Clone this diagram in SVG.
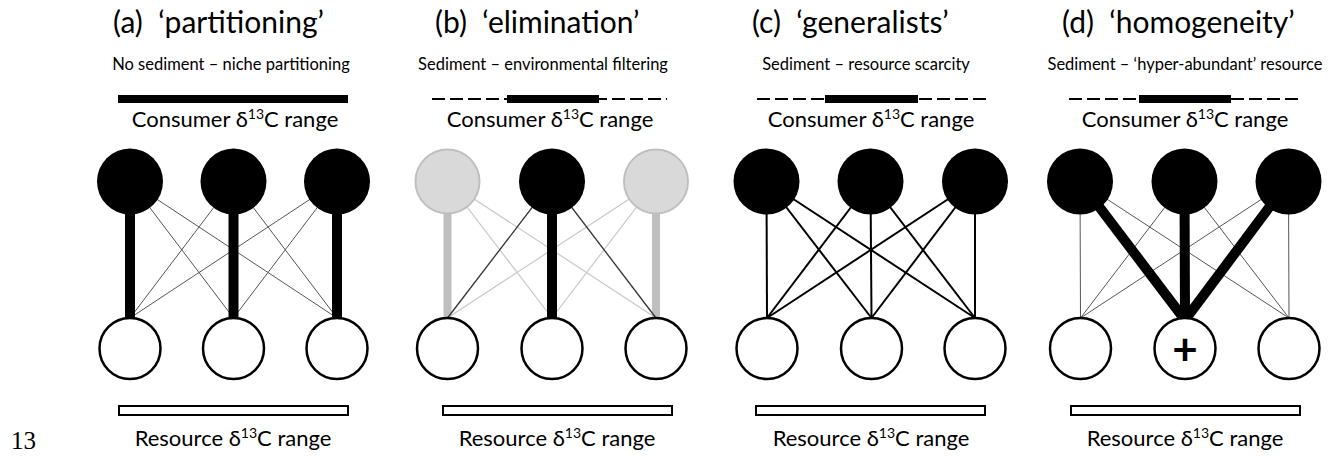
<svg xmlns="http://www.w3.org/2000/svg" width="1336" height="456" viewBox="0 0 1336 456">
<style>
text{font-family:Lato,"Liberation Sans","DejaVu Sans",sans-serif;fill:#000}
.title{font-size:30px;white-space:pre}
.sub{font-size:16.5px;text-anchor:middle}
.lbl{font-size:22px;text-anchor:middle}
.sup{font-size:14px}
.pg{font-family:"Liberation Serif",serif;font-size:25px}
.cons{fill:#000}
.consg{fill:#d9d9d9;stroke:#bfbfbf;stroke-width:2}
.res{fill:#fff;stroke:#000;stroke-width:2.5}
.cbar{fill:#000}
.rbar{fill:#fff;stroke:#000;stroke-width:2}
.dash{stroke:#000;stroke-width:2;stroke-dasharray:13 5;fill:none}
.thin{stroke:#555;stroke-width:1}
.thick{stroke:#000;stroke-width:10}
.med{stroke:#000;stroke-width:2}
.gthin{stroke:#c8c8c8;stroke-width:1.2}
.gthick{stroke:#bfbfbf;stroke-width:8}
.dthin{stroke:#333;stroke-width:1.3}
.plus{font-size:44px;font-weight:bold;text-anchor:middle}
</style>

<g id="connectors">
  <!-- panel a -->
  <line class="thin" x1="130" y1="181.5" x2="233.5" y2="318"/>
  <line class="thin" x1="130" y1="181.5" x2="337" y2="318"/>
  <line class="thin" x1="233.5" y1="181.5" x2="130" y2="318"/>
  <line class="thin" x1="233.5" y1="181.5" x2="337" y2="318"/>
  <line class="thin" x1="337" y1="181.5" x2="130" y2="318"/>
  <line class="thin" x1="337" y1="181.5" x2="233.5" y2="318"/>
  <line class="thick" x1="130" y1="181.5" x2="130" y2="320"/>
  <line class="thick" x1="233.5" y1="181.5" x2="233.5" y2="320"/>
  <line class="thick" x1="337" y1="181.5" x2="337" y2="320"/>
  <!-- panel b -->
  <line class="gthin" x1="447.5" y1="181.5" x2="552" y2="318"/>
  <line class="gthin" x1="447.5" y1="181.5" x2="656" y2="318"/>
  <line class="gthin" x1="656" y1="181.5" x2="447.5" y2="318"/>
  <line class="gthin" x1="656" y1="181.5" x2="552" y2="318"/>
  <line class="gthick" x1="447.5" y1="181.5" x2="447.5" y2="320"/>
  <line class="gthick" x1="656" y1="181.5" x2="656" y2="320"/>
  <line class="dthin" x1="552" y1="181.5" x2="447.5" y2="318"/>
  <line class="dthin" x1="552" y1="181.5" x2="656" y2="318"/>
  <line class="thick" x1="552" y1="181.5" x2="552" y2="320"/>
  <!-- panel c -->
  <line class="med" x1="766.5" y1="181.5" x2="767" y2="318"/>
  <line class="med" x1="766.5" y1="181.5" x2="871.5" y2="318"/>
  <line class="med" x1="766.5" y1="181.5" x2="975" y2="318"/>
  <line class="med" x1="870.5" y1="181.5" x2="767" y2="318"/>
  <line class="med" x1="870.5" y1="181.5" x2="871.5" y2="318"/>
  <line class="med" x1="870.5" y1="181.5" x2="975" y2="318"/>
  <line class="med" x1="975" y1="181.5" x2="767" y2="318"/>
  <line class="med" x1="975" y1="181.5" x2="871.5" y2="318"/>
  <line class="med" x1="975" y1="181.5" x2="975" y2="318"/>
  <!-- panel d -->
  <line class="thin" x1="1080" y1="181.5" x2="1080.5" y2="318"/>
  <line class="thin" x1="1080" y1="181.5" x2="1289" y2="318"/>
  <line class="thin" x1="1184.5" y1="181.5" x2="1080.5" y2="318"/>
  <line class="thin" x1="1184.5" y1="181.5" x2="1289" y2="318"/>
  <line class="thin" x1="1288.5" y1="181.5" x2="1080.5" y2="318"/>
  <line class="thin" x1="1288.5" y1="181.5" x2="1289" y2="318"/>
  <line class="thick" x1="1080" y1="181.5" x2="1185" y2="320"/>
  <line class="thick" x1="1184.5" y1="181.5" x2="1185" y2="320"/>
  <line class="thick" x1="1288.5" y1="181.5" x2="1185" y2="320"/>
</g>

<!-- panel a -->
<g id="panel-a">
  <text class="title" x="113" y="33" xml:space="preserve">(a)  ‘partitioning’</text>
  <text class="sub" x="231" y="70">No sediment – niche partitioning</text>
  <g id="a-consumer-range"><rect class="cbar" x="118" y="95" width="230" height="8"/></g>
  <text class="lbl" x="235" y="127">Consumer δ<tspan class="sup" dy="-8">13</tspan><tspan dy="8">C range</tspan></text>
  <g id="a-c1"><circle class="cons" cx="130" cy="181.5" r="33"/></g>
  <g id="a-c2"><circle class="cons" cx="233.5" cy="181.5" r="33"/></g>
  <g id="a-c3"><circle class="cons" cx="337" cy="181.5" r="33"/></g>
  <g id="a-r1"><circle class="res" cx="130" cy="348.5" r="30.5"/></g>
  <g id="a-r2"><circle class="res" cx="233.5" cy="348.5" r="30.5"/></g>
  <g id="a-r3"><circle class="res" cx="337" cy="348.5" r="30.5"/></g>
  <g id="a-resource-range"><rect class="rbar" x="119" y="406" width="229" height="9"/></g>
  <text class="lbl" x="233" y="446">Resource δ<tspan class="sup" dy="-8">13</tspan><tspan dy="8">C range</tspan></text>
</g>

<!-- panel b -->
<g id="panel-b">
  <text class="title" x="435" y="33" xml:space="preserve">(b)  ‘elimination’</text>
  <text class="sub" x="543" y="70">Sediment – environmental filtering</text>
  <g id="b-consumer-range">
    <line class="dash" x1="432" y1="99" x2="667" y2="99"/>
    <rect class="cbar" x="507" y="95" width="92" height="8"/>
  </g>
  <text class="lbl" x="550" y="127">Consumer δ<tspan class="sup" dy="-8">13</tspan><tspan dy="8">C range</tspan></text>
  <g id="b-c1"><circle class="consg" cx="447.5" cy="181.5" r="32"/></g>
  <g id="b-c2"><circle class="cons" cx="552" cy="181.5" r="33"/></g>
  <g id="b-c3"><circle class="consg" cx="656" cy="181.5" r="32"/></g>
  <g id="b-r1"><circle class="res" cx="447.5" cy="348.5" r="30.5"/></g>
  <g id="b-r2"><circle class="res" cx="552" cy="348.5" r="30.5"/></g>
  <g id="b-r3"><circle class="res" cx="656" cy="348.5" r="30.5"/></g>
  <g id="b-resource-range"><rect class="rbar" x="443" y="406" width="229" height="9"/></g>
  <text class="lbl" x="557" y="446">Resource δ<tspan class="sup" dy="-8">13</tspan><tspan dy="8">C range</tspan></text>
</g>

<!-- panel c -->
<g id="panel-c">
  <text class="title" x="752" y="33" xml:space="preserve">(c)  ‘generalists’</text>
  <text class="sub" x="866" y="70">Sediment – resource scarcity</text>
  <g id="c-consumer-range">
    <line class="dash" x1="757" y1="99" x2="986" y2="99"/>
    <rect class="cbar" x="825" y="95" width="93" height="8"/>
  </g>
  <text class="lbl" x="871" y="127">Consumer δ<tspan class="sup" dy="-8">13</tspan><tspan dy="8">C range</tspan></text>
  <g id="c-c1"><circle class="cons" cx="766.5" cy="181.5" r="33"/></g>
  <g id="c-c2"><circle class="cons" cx="870.5" cy="181.5" r="33"/></g>
  <g id="c-c3"><circle class="cons" cx="975" cy="181.5" r="33"/></g>
  <g id="c-r1"><circle class="res" cx="767" cy="348.5" r="30.5"/></g>
  <g id="c-r2"><circle class="res" cx="871.5" cy="348.5" r="30.5"/></g>
  <g id="c-r3"><circle class="res" cx="975" cy="348.5" r="30.5"/></g>
  <g id="c-resource-range"><rect class="rbar" x="756" y="406" width="229" height="9"/></g>
  <text class="lbl" x="871" y="446">Resource δ<tspan class="sup" dy="-8">13</tspan><tspan dy="8">C range</tspan></text>
</g>

<!-- panel d -->
<g id="panel-d">
  <text class="title" x="1062" y="33" xml:space="preserve">(d)  ‘homogeneity’</text>
  <text class="sub" x="1185" y="70">Sediment – ‘hyper-abundant’ resource</text>
  <g id="d-consumer-range">
    <line class="dash" x1="1069" y1="99" x2="1299" y2="99"/>
    <rect class="cbar" x="1139" y="95" width="92" height="8"/>
  </g>
  <text class="lbl" x="1185" y="127">Consumer δ<tspan class="sup" dy="-8">13</tspan><tspan dy="8">C range</tspan></text>
  <g id="d-c1"><circle class="cons" cx="1080" cy="181.5" r="33"/></g>
  <g id="d-c2"><circle class="cons" cx="1184.5" cy="181.5" r="33"/></g>
  <g id="d-c3"><circle class="cons" cx="1288.5" cy="181.5" r="33"/></g>
  <g id="d-r1"><circle class="res" cx="1080.5" cy="348.5" r="30.5"/></g>
  <g id="d-r2"><circle class="res" cx="1185" cy="348.5" r="30.5"/><text class="plus" x="1185" y="365">+</text></g>
  <g id="d-r3"><circle class="res" cx="1289" cy="348.5" r="30.5"/></g>
  <g id="d-resource-range"><rect class="rbar" x="1071" y="406" width="229" height="9"/></g>
  <text class="lbl" x="1185" y="446">Resource δ<tspan class="sup" dy="-8">13</tspan><tspan dy="8">C range</tspan></text>
</g>

<text class="pg" x="11" y="449">13</text>
</svg>
